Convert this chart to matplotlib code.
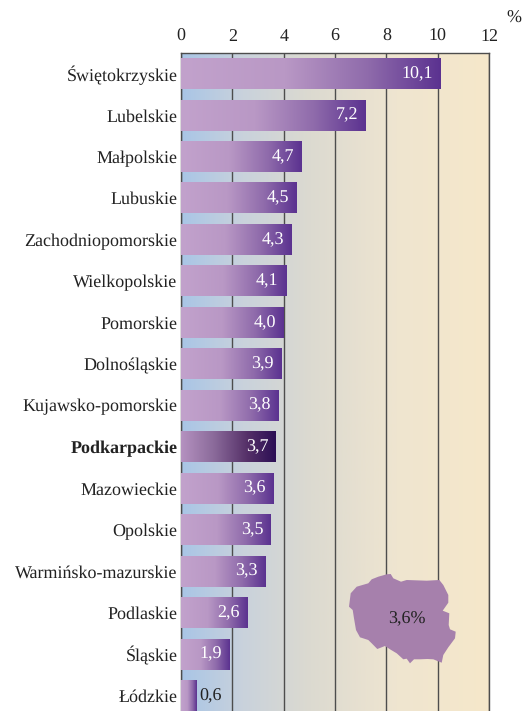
import numpy as np
import matplotlib
matplotlib.use('Agg')
import matplotlib.pyplot as plt
from matplotlib.colors import LinearSegmentedColormap

plt.rcParams['font.family'] = ['Liberation Serif', 'DejaVu Serif']
plt.rcParams['text.hinting'] = 'none'

regions = ['Świętokrzyskie', 'Lubelskie', 'Małpolskie', 'Lubuskie', 'Zachodniopomorskie',
           'Wielkopolskie', 'Pomorskie', 'Dolnośląskie', 'Kujawsko-pomorskie', 'Podkarpackie',
           'Mazowieckie', 'Opolskie', 'Warmińsko-mazurskie', 'Podlaskie', 'Śląskie', 'Łódzkie']
values = [10.1, 7.2, 4.7, 4.5, 4.3, 4.1, 4.0, 3.9, 3.8, 3.7, 3.6, 3.5, 3.3, 2.6, 1.9, 0.6]
xticks = [0, 2, 4, 6, 8, 10, 12]
highlight = 'Podkarpackie'
country_label = '3,6%'

# outline of the map, in picture pixels
map_x = [386.7, 390.7, 393.3, 401, 406.7, 426.7, 439.3, 443.3, 448.3, 448.3, 442.7, 449.3, 448.7,
         450, 455.7, 455, 448.3, 443.3, 441.7, 433.3, 427.3, 420, 414, 410, 406.7, 403.3, 396.7,
         390, 385, 377.3, 371.7, 368.3, 360, 356, 354, 352.7, 349, 350.7, 356.7, 368.3, 371.7, 378.3]
map_y = [574.3, 574, 578.3, 581.7, 580, 580.7, 580, 585, 595, 602.7, 610.7, 613.3, 625,
         629.3, 631.7, 638.3, 647.3, 655, 662.7, 659.3, 659, 659.3, 659.3, 663.3, 658.7, 659.3, 653.3,
         649.3, 646, 649, 643.3, 640, 637.3, 630, 618.3, 610, 606.7, 593.3, 586.7, 583.3, 579.3, 576.7]

bg_cmap = LinearSegmentedColormap.from_list('bg', [(0, '#a9c5e6'), (0.2, '#c9d2dc'), (0.42, '#dcdad0'),
                                                   (0.7, '#efe5d0'), (1, '#f6e8ca')])
bar_cmap = LinearSegmentedColormap.from_list('bar', [(0, '#c2a2cc'), (0.4, '#b998c5'), (0.72, '#8f6bab'),
                                                     (1, '#5b3290')])
hl_cmap = LinearSegmentedColormap.from_list('hl', [(0, '#b592c0'), (0.35, '#8a6a9a'), (0.7, '#553068'),
                                                   (1, '#2c0f55')])
ramp = np.linspace(0, 1, 256).reshape(1, -1)

fig = plt.figure(figsize=(5.25, 7.11), dpi=100)
ax = fig.add_axes([181 / 525, 0, 308 / 525, (711 - 53) / 711])

ypos = np.arange(len(regions))
ymax, ymin = 15.37, -0.498
bar_h = 0.745
ax.imshow(ramp, cmap=bg_cmap, extent=(0, 12, ymax, ymin), aspect='auto', zorder=0)

bars = ax.barh(ypos, values, height=bar_h, color='none', zorder=2)
for bar, name, v, y in zip(bars, regions, values, ypos):
    cmap = hl_cmap if name == highlight else bar_cmap
    ax.imshow(ramp, cmap=cmap, extent=(0, v, y + bar_h / 2, y - bar_h / 2), aspect='auto', zorder=3)
    label = str(v).replace('.', ',')
    if v < 1:
        ax.annotate(label, (v, y), xytext=(2, 0), textcoords='offset points', ha='left', va='center',
                    fontsize=13, color='#222222', zorder=5)
    else:
        ax.annotate(label, (v, y), xytext=(-5.5, 0), textcoords='offset points', ha='right', va='center',
                    fontsize=13, color='white', zorder=5)

ax.set_xlim(0, 12)
ax.set_ylim(ymax, ymin)
ax.xaxis.tick_top()
ax.set_xticks(xticks)
ax.set_xticklabels(xticks, fontsize=13, color='#222222')
ax.set_yticks(ypos)
ax.set_yticklabels(regions, fontsize=13, color='#222222', va='center_baseline')
for lab in ax.get_yticklabels():
    if lab.get_text() == highlight:
        lab.set_fontweight('bold')
ax.tick_params(axis='y', length=0, pad=2.5)
ax.tick_params(axis='x', length=0, pad=6)
ax.xaxis.grid(True, color='#4d4d4d', lw=1.0, zorder=1)
ax.set_axisbelow(True)
for side, sp in ax.spines.items():
    sp.set_color('#4d4d4d')
    sp.set_linewidth(1.0)
ax.spines['bottom'].set_visible(False)

# overlay in picture pixels for the map and the unit
over = fig.add_axes([0, 0, 1, 1], facecolor='none')
over.set_xlim(0, 525)
over.set_ylim(711, 0)
over.axis('off')
over.fill(map_x, map_y, color='#a680ac', lw=0)
over.text(407, 619, country_label, ha='center', va='center', fontsize=13, color='#222222')
over.text(514, 18, '%', ha='center', va='center', fontsize=13, color='#222222')

fig.savefig('out.png', dpi=100)
